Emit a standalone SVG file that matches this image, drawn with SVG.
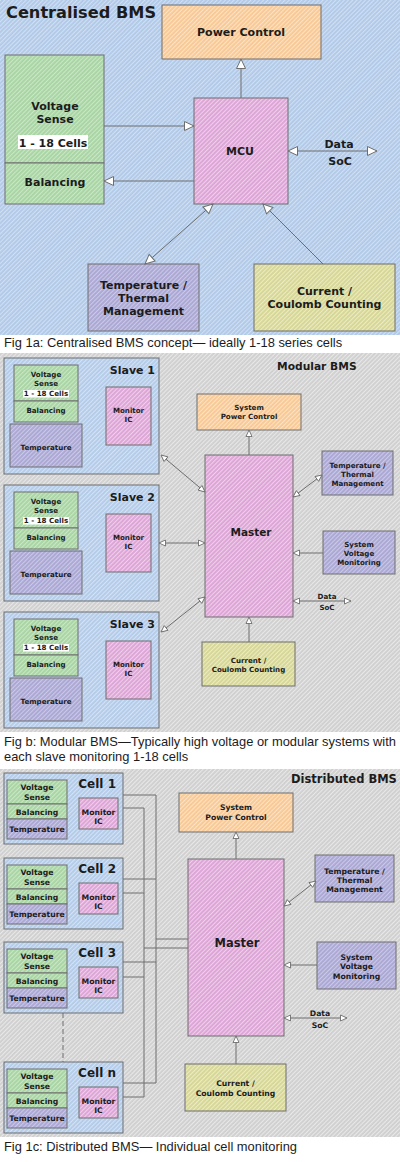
<svg xmlns="http://www.w3.org/2000/svg" width="400" height="1162" viewBox="0 0 400 1162">
<style>
.t{font-family:"DejaVu Sans",Verdana,sans-serif;font-weight:bold;fill:#1c1c1c;text-anchor:middle}
.s11{font-size:11px}.s7{font-size:7.1px}.s77{font-size:7.7px}.s12{font-size:12px}
.end{text-anchor:end}.start{text-anchor:start}
.cap{font-family:"Liberation Sans",Arial,sans-serif;font-size:12.9px;fill:#1c1c1c}
.b{stroke:#6e6e6e;stroke-width:1}
.ln{stroke:#6e6e6e;stroke-width:1;fill:none}
.a1{marker-end:url(#ah)}.a2{marker-start:url(#ah);marker-end:url(#ah)}
.s1{marker-end:url(#sh)}.s2{marker-start:url(#sh);marker-end:url(#sh)}
.hl{fill:#ffffff}
</style>
<defs>
<pattern id="pBg" width="3" height="3" patternUnits="userSpaceOnUse" patternTransform="rotate(45)"><rect width="3" height="3" fill="#b2cae8"/><line x1="0.5" y1="0" x2="0.5" y2="3" stroke="#d0e0f3" stroke-width="1.1"/></pattern>
<pattern id="pGray" width="3" height="3" patternUnits="userSpaceOnUse" patternTransform="rotate(45)"><rect width="3" height="3" fill="#d0d0d0"/><line x1="0.5" y1="0" x2="0.5" y2="3" stroke="#e8e8e8" stroke-width="1.1"/></pattern>
<pattern id="pOr" width="3" height="3" patternUnits="userSpaceOnUse" patternTransform="rotate(45)"><rect width="3" height="3" fill="#f8c995"/><line x1="0.5" y1="0" x2="0.5" y2="3" stroke="#fde3c6" stroke-width="1.1"/></pattern>
<pattern id="pGr" width="3" height="3" patternUnits="userSpaceOnUse" patternTransform="rotate(45)"><rect width="3" height="3" fill="#a9d4a4"/><line x1="0.5" y1="0" x2="0.5" y2="3" stroke="#cae7c6" stroke-width="1.1"/></pattern>
<pattern id="pPk" width="3" height="3" patternUnits="userSpaceOnUse" patternTransform="rotate(45)"><rect width="3" height="3" fill="#dca5d6"/><line x1="0.5" y1="0" x2="0.5" y2="3" stroke="#f1cfec" stroke-width="1.1"/></pattern>
<pattern id="pPu" width="3" height="3" patternUnits="userSpaceOnUse" patternTransform="rotate(45)"><rect width="3" height="3" fill="#aca8d4"/><line x1="0.5" y1="0" x2="0.5" y2="3" stroke="#cbc9e8" stroke-width="1.1"/></pattern>
<pattern id="pOl" width="3" height="3" patternUnits="userSpaceOnUse" patternTransform="rotate(45)"><rect width="3" height="3" fill="#d6d696"/><line x1="0.5" y1="0" x2="0.5" y2="3" stroke="#ececc4" stroke-width="1.1"/></pattern>
<pattern id="pBl" width="3" height="3" patternUnits="userSpaceOnUse" patternTransform="rotate(45)"><rect width="3" height="3" fill="#b4cce9"/><line x1="0.5" y1="0" x2="0.5" y2="3" stroke="#d4e3f5" stroke-width="1.1"/></pattern>
<marker id="ah" viewBox="0 0 10 10" refX="10" refY="5" markerWidth="10" markerHeight="10" markerUnits="userSpaceOnUse" orient="auto-start-reverse" overflow="visible"><path d="M0.5,0.5 L10,5 L0.5,9.5 Z" fill="#ffffff" stroke="#6e6e6e" stroke-width="1"/></marker>
<marker id="sh" viewBox="0 0 7 7" refX="7" refY="3.5" markerWidth="7" markerHeight="7" markerUnits="userSpaceOnUse" orient="auto-start-reverse" overflow="visible"><path d="M0.5,0.5 L7,3.5 L0.5,6.5 Z" fill="#ffffff" stroke="#6e6e6e" stroke-width="0.9"/></marker>
</defs>

<rect width="400" height="1162" fill="#ffffff"/>

<!-- Panel 1 -->
<g id="panel1">
<rect x="0" y="0" width="400" height="335" fill="url(#pBg)"/>
<text class="t start" x="6" y="18" style="font-size:16.2px">Centralised BMS</text>
<text class="cap" x="4" y="347">Fig 1a: Centralised BMS concept— ideally 1-18 series cells</text>
</g>
<g id="p1-power">
<rect class="b" x="162" y="5" width="159" height="54" fill="url(#pOr)"/>
<text class="t s11" x="241" y="36">Power Control</text>
</g>
<g id="p1-voltage">
<rect class="b" x="5" y="55" width="99" height="108" fill="url(#pGr)"/>
<text class="t s11" x="55" y="110">Voltage</text>
<text class="t s11" x="55" y="123">Sense</text>
<rect class="hl" x="18" y="135" width="70" height="14"/>
<text class="t s11" x="53" y="147">1 - 18 Cells</text>
</g>
<g id="p1-balancing">
<rect class="b" x="5" y="163" width="99" height="41" fill="url(#pGr)"/>
<text class="t s11" x="55" y="186">Balancing</text>
</g>
<g id="p1-mcu">
<rect class="b" x="194" y="98" width="94" height="106" fill="url(#pPk)"/>
<text class="t s11" x="240" y="155">MCU</text>
</g>
<g id="p1-temp">
<rect class="b" x="88" y="264" width="111" height="67" fill="url(#pPu)"/>
<text class="t s11" x="143.5" y="289">Temperature /</text>
<text class="t s11" x="143.5" y="302">Thermal</text>
<text class="t s11" x="143.5" y="315">Management</text>
</g>
<g id="p1-current">
<rect class="b" x="254" y="264" width="141" height="67" fill="url(#pOl)"/>
<text class="t s11" x="324.5" y="295">Current /</text>
<text class="t s11" x="324.5" y="308">Coulomb Counting</text>
</g>
<g id="p1-data">
<text class="t s11" x="339" y="148">Data</text>
<text class="t s11" x="340" y="165">SoC</text>
</g>

<!-- Panel 2 -->
<g id="panel2">
<rect x="0" y="353" width="400" height="379" fill="url(#pGray)"/>
<text class="t start" x="277" y="370" style="font-size:10.7px">Modular BMS</text>
<text class="cap" x="4" y="746">Fig b: Modular BMS—Typically high voltage or modular systems with</text>
<text class="cap" x="4" y="761">each slave monitoring 1-18 cells</text>
</g>
<g id="slave1">
<rect class="b" x="4" y="358" width="155" height="116" fill="url(#pBl)"/>
<text class="t end" x="155" y="374" style="font-size:11px">Slave 1</text>
<rect class="b" x="14" y="365" width="64" height="36" fill="url(#pGr)"/>
<rect class="b" x="14" y="401" width="64" height="21" fill="url(#pGr)"/>
<text class="t s7" x="46" y="376.5">Voltage</text>
<text class="t s7" x="46" y="385.5">Sense</text>
<rect class="hl" x="23" y="390" width="46" height="7.5"/>
<text class="t s7" x="46" y="396">1 - 18 Cells</text>
<text class="t s7" x="46" y="413">Balancing</text>
<rect class="b" x="10" y="424" width="72" height="43" fill="url(#pPu)"/>
<text class="t s7" x="46" y="449.5">Temperature</text>
<rect class="b" x="106" y="387" width="45" height="58" fill="url(#pPk)"/>
<text class="t s7" x="128.5" y="412.5">Monitor</text>
<text class="t s7" x="128.5" y="421.5">IC</text>
</g>
<g id="slave2">
<rect class="b" x="4" y="485" width="155" height="116" fill="url(#pBl)"/>
<text class="t end" x="155" y="501" style="font-size:11px">Slave 2</text>
<rect class="b" x="14" y="492" width="64" height="36" fill="url(#pGr)"/>
<rect class="b" x="14" y="528" width="64" height="21" fill="url(#pGr)"/>
<text class="t s7" x="46" y="503.5">Voltage</text>
<text class="t s7" x="46" y="512.5">Sense</text>
<rect class="hl" x="23" y="517" width="46" height="7.5"/>
<text class="t s7" x="46" y="523">1 - 18 Cells</text>
<text class="t s7" x="46" y="540">Balancing</text>
<rect class="b" x="10" y="551" width="72" height="43" fill="url(#pPu)"/>
<text class="t s7" x="46" y="576.5">Temperature</text>
<rect class="b" x="106" y="514" width="45" height="58" fill="url(#pPk)"/>
<text class="t s7" x="128.5" y="539.5">Monitor</text>
<text class="t s7" x="128.5" y="548.5">IC</text>
</g>
<g id="slave3">
<rect class="b" x="4" y="612" width="155" height="116" fill="url(#pBl)"/>
<text class="t end" x="155" y="628" style="font-size:11px">Slave 3</text>
<rect class="b" x="14" y="619" width="64" height="36" fill="url(#pGr)"/>
<rect class="b" x="14" y="655" width="64" height="21" fill="url(#pGr)"/>
<text class="t s7" x="46" y="630.5">Voltage</text>
<text class="t s7" x="46" y="639.5">Sense</text>
<rect class="hl" x="23" y="644" width="46" height="7.5"/>
<text class="t s7" x="46" y="650">1 - 18 Cells</text>
<text class="t s7" x="46" y="667">Balancing</text>
<rect class="b" x="10" y="678" width="72" height="43" fill="url(#pPu)"/>
<text class="t s7" x="46" y="703.5">Temperature</text>
<rect class="b" x="106" y="641" width="45" height="58" fill="url(#pPk)"/>
<text class="t s7" x="128.5" y="666.5">Monitor</text>
<text class="t s7" x="128.5" y="675.5">IC</text>
</g>
<g id="p2-power">
<rect class="b" x="197" y="394" width="104" height="36" fill="url(#pOr)"/>
<text class="t s7" x="249" y="409.5">System</text>
<text class="t s7" x="249" y="418.5">Power Control</text>
</g>
<g id="p2-master">
<rect class="b" x="205" y="455" width="88" height="162" fill="url(#pPk)"/>
<text class="t" x="251" y="536" style="font-size:10.5px">Master</text>
</g>
<g id="p2-temp">
<rect class="b" x="322" y="451" width="71" height="44" fill="url(#pPu)"/>
<text class="t s7" x="357.5" y="467.5">Temperature /</text>
<text class="t s7" x="357.5" y="476.5">Thermal</text>
<text class="t s7" x="357.5" y="485.5">Management</text>
</g>
<g id="p2-svm">
<rect class="b" x="323" y="531" width="72" height="43" fill="url(#pPu)"/>
<text class="t s7" x="359" y="546.5">System</text>
<text class="t s7" x="359" y="555.5">Voltage</text>
<text class="t s7" x="359" y="564.5">Monitoring</text>
</g>
<g id="p2-current">
<rect class="b" x="202" y="642" width="93" height="44" fill="url(#pOl)"/>
<text class="t s7" x="248.5" y="662.5">Current /</text>
<text class="t s7" x="248.5" y="671.5">Coulomb Counting</text>
</g>
<g id="p2-data">
<text class="t s7" x="327" y="598.5">Data</text>
<text class="t s7" x="327" y="609.5">SoC</text>
</g>

<!-- Panel 3 -->
<g id="panel3">
<rect x="0" y="769" width="400" height="368" fill="url(#pGray)"/>
<text class="t start" x="291" y="783" style="font-size:11.5px">Distributed BMS</text>
<text class="cap" x="4" y="1151">Fig 1c: Distributed BMS— Individual cell monitoring</text>
</g>
<g id="cell1">
<rect class="b" x="4" y="773" width="119" height="71" fill="url(#pBl)"/>
<text class="t end s12" x="116" y="788">Cell 1</text>
<rect class="b" x="7" y="780" width="60" height="24" fill="url(#pGr)"/>
<rect class="b" x="7" y="804" width="60" height="15" fill="url(#pGr)"/>
<rect class="b" x="7" y="819" width="60" height="20" fill="url(#pPu)"/>
<text class="t s77" x="37" y="789.5">Voltage</text>
<text class="t s77" x="37" y="799.5">Sense</text>
<text class="t s77" x="37" y="814.5">Balancing</text>
<text class="t s77" x="37" y="831.5">Temperature</text>
<rect class="b" x="79" y="798" width="39" height="31" fill="url(#pPk)"/>
<text class="t s77" x="98.5" y="814.5">Monitor</text>
<text class="t s77" x="98.5" y="823.5">IC</text>
</g>
<g id="cell2">
<rect class="b" x="4" y="858" width="119" height="71" fill="url(#pBl)"/>
<text class="t end s12" x="116" y="873">Cell 2</text>
<rect class="b" x="7" y="865" width="60" height="24" fill="url(#pGr)"/>
<rect class="b" x="7" y="889" width="60" height="15" fill="url(#pGr)"/>
<rect class="b" x="7" y="904" width="60" height="20" fill="url(#pPu)"/>
<text class="t s77" x="37" y="874.5">Voltage</text>
<text class="t s77" x="37" y="884.5">Sense</text>
<text class="t s77" x="37" y="899.5">Balancing</text>
<text class="t s77" x="37" y="916.5">Temperature</text>
<rect class="b" x="79" y="883" width="39" height="31" fill="url(#pPk)"/>
<text class="t s77" x="98.5" y="899.5">Monitor</text>
<text class="t s77" x="98.5" y="908.5">IC</text>
</g>
<g id="cell3">
<rect class="b" x="4" y="942" width="119" height="71" fill="url(#pBl)"/>
<text class="t end s12" x="116" y="957">Cell 3</text>
<rect class="b" x="7" y="949" width="60" height="24" fill="url(#pGr)"/>
<rect class="b" x="7" y="973" width="60" height="15" fill="url(#pGr)"/>
<rect class="b" x="7" y="988" width="60" height="20" fill="url(#pPu)"/>
<text class="t s77" x="37" y="958.5">Voltage</text>
<text class="t s77" x="37" y="968.5">Sense</text>
<text class="t s77" x="37" y="983.5">Balancing</text>
<text class="t s77" x="37" y="1000.5">Temperature</text>
<rect class="b" x="79" y="967" width="39" height="31" fill="url(#pPk)"/>
<text class="t s77" x="98.5" y="983.5">Monitor</text>
<text class="t s77" x="98.5" y="992.5">IC</text>
</g>
<g id="celln">
<rect class="b" x="4" y="1062" width="119" height="71" fill="url(#pBl)"/>
<text class="t end s12" x="116" y="1077">Cell n</text>
<rect class="b" x="7" y="1069" width="60" height="24" fill="url(#pGr)"/>
<rect class="b" x="7" y="1093" width="60" height="15" fill="url(#pGr)"/>
<rect class="b" x="7" y="1108" width="60" height="20" fill="url(#pPu)"/>
<text class="t s77" x="37" y="1078.5">Voltage</text>
<text class="t s77" x="37" y="1088.5">Sense</text>
<text class="t s77" x="37" y="1103.5">Balancing</text>
<text class="t s77" x="37" y="1120.5">Temperature</text>
<rect class="b" x="79" y="1087" width="39" height="31" fill="url(#pPk)"/>
<text class="t s77" x="98.5" y="1103.5">Monitor</text>
<text class="t s77" x="98.5" y="1112.5">IC</text>
</g>
<g id="p3-power">
<rect class="b" x="179" y="793" width="114" height="39" fill="url(#pOr)"/>
<text class="t s77" x="236" y="810">System</text>
<text class="t s77" x="236" y="820">Power Control</text>
</g>
<g id="p3-master">
<rect class="b" x="188" y="859" width="96" height="177" fill="url(#pPk)"/>
<text class="t" x="237" y="947" style="font-size:11.5px">Master</text>
</g>
<g id="p3-temp">
<rect class="b" x="315" y="855" width="79" height="47" fill="url(#pPu)"/>
<text class="t s77" x="354.5" y="874">Temperature /</text>
<text class="t s77" x="354.5" y="883">Thermal</text>
<text class="t s77" x="354.5" y="892">Management</text>
</g>
<g id="p3-svm">
<rect class="b" x="317" y="942" width="79" height="47" fill="url(#pPu)"/>
<text class="t s77" x="356.5" y="960">System</text>
<text class="t s77" x="356.5" y="969">Voltage</text>
<text class="t s77" x="356.5" y="979">Monitoring</text>
</g>
<g id="p3-current">
<rect class="b" x="185" y="1064" width="101" height="47" fill="url(#pOl)"/>
<text class="t s77" x="235.5" y="1086">Current /</text>
<text class="t s77" x="235.5" y="1096">Coulomb Counting</text>
</g>
<g id="p3-data">
<text class="t s77" x="320" y="1016">Data</text>
<text class="t s77" x="320" y="1028">SoC</text>
</g>

<g id="connectors">
<!-- panel 1 -->
<line class="ln a1" x1="241" y1="98" x2="241" y2="59"/>
<line class="ln a1" x1="104" y1="126" x2="194" y2="126"/>
<line class="ln a1" x1="194" y1="181" x2="104" y2="181"/>
<line class="ln a2" x1="288" y1="151" x2="377" y2="151"/>
<line class="ln a2" x1="145" y1="264" x2="213" y2="204"/>
<line class="ln a1" x1="323" y1="264" x2="263" y2="204"/>
<!-- panel 2 -->
<line class="ln s1" x1="249" y1="455" x2="249" y2="430"/>
<line class="ln s2" x1="161" y1="455" x2="205" y2="492"/>
<line class="ln s2" x1="159" y1="543" x2="205" y2="543"/>
<line class="ln s2" x1="161" y1="632" x2="205" y2="597"/>
<line class="ln s2" x1="293" y1="497" x2="322" y2="475"/>
<line class="ln s1" x1="323" y1="553" x2="293" y2="553"/>
<line class="ln s2" x1="293" y1="601" x2="351" y2="601"/>
<line class="ln s1" x1="249" y1="642" x2="249" y2="617"/>
<!-- panel 3 -->
<line class="ln s1" x1="236" y1="859" x2="236" y2="832"/>
<line class="ln s2" x1="284" y1="906" x2="316" y2="881"/>
<line class="ln s1" x1="317" y1="965" x2="284" y2="965"/>
<line class="ln s2" x1="284" y1="1018" x2="347" y2="1018"/>
<line class="ln s1" x1="236" y1="1064" x2="236" y2="1036"/>
<path class="ln" d="M123,795 H156 M123,879 H156 M123,962 H156 M123,1083 H156 M156,795 V1083 M156,939 H188"/>
<path class="ln" d="M123,808 H144 M123,893 H144 M123,977 H144 M123,1097 H144 M144,808 V1097 M144,948 H188"/>
<line class="ln" x1="63" y1="1013" x2="63" y2="1062" stroke-dasharray="5,3"/>
</g>
</svg>
